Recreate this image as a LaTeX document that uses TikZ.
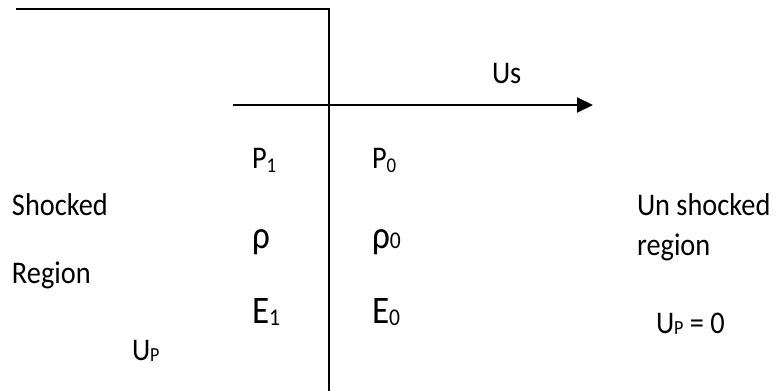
\documentclass[tikz,border=0pt]{standalone}
\usepackage{fontspec}
\setmainfont[FakeStretch=0.9]{Carlito}
\usetikzlibrary{arrows.meta}
\tikzset{
  txt/.style={anchor=base west, inner sep=0pt, outer sep=0pt, font=\fontsize{31.5}{33}\selectfont},
  big/.style={anchor=base west, inner sep=0pt, outer sep=0pt, font=\fontsize{39}{41}\selectfont},
  wall/.style={line width=2pt, line cap=rect},
  shockarrow/.style={line width=2pt, -{Triangle[length=16pt,width=15pt]}}
}
\begin{document}
\begin{tikzpicture}[x=1pt,y=-1pt]
\useasboundingbox (0,0) rectangle (777,391);
% frame lines
\coordinate (tl) at (17,9);
\coordinate (tr) at (329,9);
\coordinate (bot) at (329,392);
\draw[wall] (tl) -- (tr) -- (bot);
% shock velocity arrow
\coordinate (as) at (233,105);
\coordinate (ae) at (593,105);
\draw[shockarrow] (as) -- (ae);
\node[txt] (us) at (492,83) {Us};
% left state
\node[txt] (p1) at (252,168) {P\raisebox{-4pt}{\fontsize{21}{21}\selectfont 1}};
\node[big] (rho1) at (252,248) {ρ};
\node[big] (e1) at (252,323) {E\raisebox{-2pt}{\fontsize{24}{24}\selectfont 1}};
% right state
\node[txt] (p0) at (372,168) {P\raisebox{-4pt}{\fontsize{21}{21}\selectfont 0}};
\node[big] (rho0) at (372,248) {ρ\fontsize{24}{24}\selectfont 0};
\node[big] (e0) at (372,323) {E\raisebox{-2pt}{\fontsize{24}{24}\selectfont 0}};
% region labels
\node[txt] (shk) at (12,215) {Shocked};
\node[txt] (reg) at (12,283) {Region};
\node[txt] (up) at (132,360) {U\raisebox{-1pt}{\fontsize{20}{20}\selectfont P}};
\node[txt] (unshk) at (637,215) {Un shocked};
\node[txt] (unreg) at (637,255) {region};
\node[txt] (up0) at (656,333) {U\raisebox{-1pt}{\fontsize{20}{20}\selectfont P} = 0};
\end{tikzpicture}
\end{document}
